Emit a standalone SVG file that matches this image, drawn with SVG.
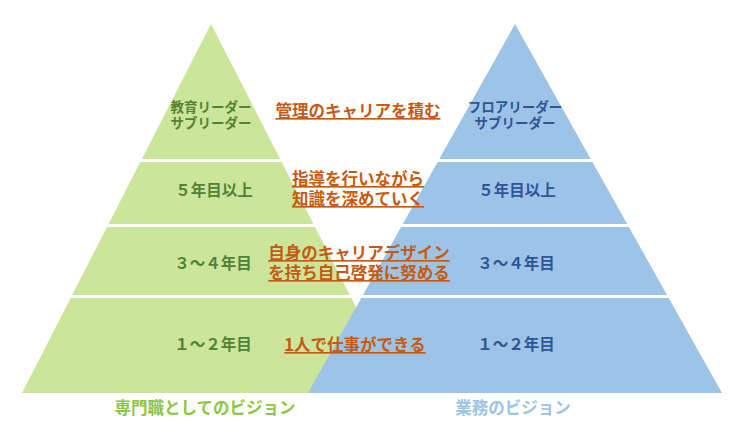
<svg xmlns="http://www.w3.org/2000/svg" width="741" height="442" viewBox="0 0 741 442">
<style>
text{font-family:"Noto Sans CJK JP","Noto Sans",sans-serif;font-weight:bold;text-anchor:middle}
.g{fill:#548235;font-size:15.5px}
.gs{fill:#548235;font-size:13.5px}
.b{fill:#2F5597;font-size:15.5px}
.bs{fill:#2F5597;font-size:13.5px}
.o{fill:#C55A11;font-size:16.5px;text-decoration:underline}
.cap{font-size:16.5px}
.gap{fill:#FFFFFF}
</style>
<rect width="741" height="442" fill="#FFFFFF"/>
<g id="pyramid-green"><polygon points="211,24 400,393 22,393" fill="#CBE59B"/></g>
<g id="pyramid-blue"><polygon points="515,24 722,393 308,393" fill="#9DC3E6"/></g>
<g id="tier-gaps">
<rect class="gap" x="0" y="159" width="741" height="3"/>
<rect class="gap" x="0" y="224" width="741" height="3"/>
<rect class="gap" x="0" y="295" width="741" height="3"/>
</g>
<g id="green-labels">
<text class="gs" x="211" y="112">教育リーダー</text>
<text class="gs" x="211" y="128">サブリーダー</text>
<text class="g" x="214" y="196">５年目以上</text>
<text class="g" x="213" y="269">３～４年目</text>
<text class="g" x="213" y="350">１～２年目</text>
</g>
<g id="blue-labels">
<text class="bs" x="515" y="112">フロアリーダー</text>
<text class="bs" x="515" y="128">サブリーダー</text>
<text class="b" x="517" y="196">５年目以上</text>
<text class="b" x="516" y="269">３～４年目</text>
<text class="b" x="516" y="350">１～２年目</text>
</g>
<g id="center-labels">
<text class="o" x="358" y="117">管理のキャリアを積む</text>
<text class="o" x="358" y="185">指導を行いながら</text>
<text class="o" x="358" y="205">知識を深めていく</text>
<text class="o" x="359" y="259">自身のキャリアデザイン</text>
<text class="o" x="359" y="279">を持ち自己啓発に努める</text>
<text class="o" x="355" y="351">1人で仕事ができる</text>
</g>
<g id="captions">
<text class="cap" x="205" y="414" fill="#8DC63F">専門職としてのビジョン</text>
<text class="cap" x="513" y="414" fill="#9DC3E6">業務のビジョン</text>
</g>
</svg>
